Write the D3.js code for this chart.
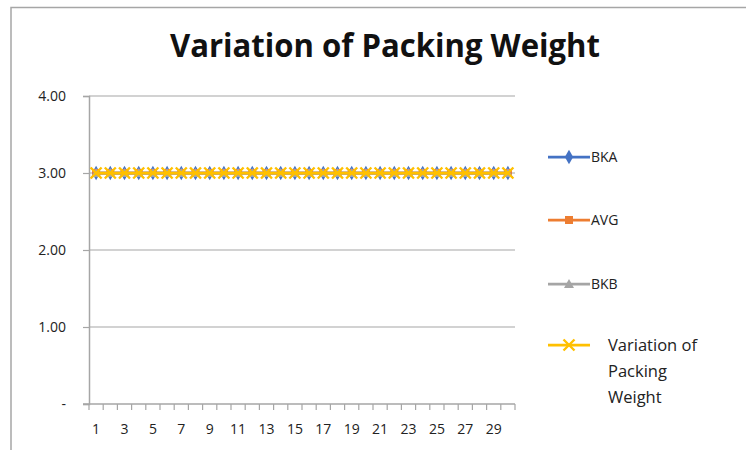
<!DOCTYPE html>
<html>
<head>
<meta charset="utf-8">
<script src="https://cdn.jsdelivr.net/npm/d3@7"></script>
<style>
  html, body { margin: 0; padding: 0; background: #fff; }
  svg { display: block; font-family: "Open Sans", "Liberation Sans", sans-serif; }
</style>
</head>
<body>
<svg id="chart" width="746" height="450"></svg>
<script>
// Sample numbers 1..30
const categories = [1,2,3,4,5,6,7,8,9,10,11,12,13,14,15,16,17,18,19,20,21,22,23,24,25,26,27,28,29,30];

// Packing weight per sample
const bka = [3,3,3,3,3,3,3,3,3,3,3,3,3,3,3,3,3,3,3,3,3,3,3,3,3,3,3,3,3,3];
const avg = [3,3,3,3,3,3,3,3,3,3,3,3,3,3,3,3,3,3,3,3,3,3,3,3,3,3,3,3,3,3];
const bkb = [3,3,3,3,3,3,3,3,3,3,3,3,3,3,3,3,3,3,3,3,3,3,3,3,3,3,3,3,3,3];
const variation = [3,3,3,3,3,3,3,3,3,3,3,3,3,3,3,3,3,3,3,3,3,3,3,3,3,3,3,3,3,3];

const yTicks = [0, 1, 2, 3, 4];
const yTickLabels = ["-", "1.00", "2.00", "3.00", "4.00"];
const xTickLabels = [1,3,5,7,9,11,13,15,17,19,21,23,25,27,29];

const series = [
  { name: "BKA", values: bka, color: "#4472C4", marker: "diamond" },
  { name: "AVG", values: avg, color: "#ED7D31", marker: "square" },
  { name: "BKB", values: bkb, color: "#A5A5A5", marker: "triangle" },
  { name: ["Variation of", "Packing", "Weight"], values: variation, color: "#FFC000", marker: "cross" }
];

const svg = d3.select("#chart");
const plotLeft = 89, plotRight = 515, plotTop = 96, plotBottom = 404;

// Outer chart frame
svg.append("path")
  .attr("d", `M11,460 L11,7.5 L760,7.5`)
  .attr("fill", "none").attr("stroke", "#a6a6a6").attr("stroke-width", 1.5);

// Title
svg.append("text")
  .attr("x", 385).attr("y", 57)
  .attr("text-anchor", "middle")
  .attr("font-family", "'Open Sans', sans-serif")
  .attr("font-weight", "bold").attr("font-size", 33)
  .attr("textLength", 430).attr("lengthAdjust", "spacingAndGlyphs")
  .attr("fill", "#111")
  .text("Variation of Packing Weight");

const x = d3.scaleBand().domain(categories).range([plotLeft, plotRight]).paddingInner(0).paddingOuter(0);
const y = d3.scaleLinear().domain([0, 4]).range([plotBottom, plotTop]);

// Horizontal gridlines
svg.append("g").selectAll("line")
  .data(yTicks.filter(d => d > 0))
  .join("line")
  .attr("x1", plotLeft).attr("x2", plotRight)
  .attr("y1", d => y(d)).attr("y2", d => y(d))
  .attr("stroke", "#a6a6a6").attr("stroke-width", 1.2);

// Y axis
const yAxis = d3.axisLeft(y).tickValues(yTicks).tickSize(6)
  .tickFormat((d, i) => yTickLabels[i]);
const gy = svg.append("g").attr("transform", `translate(${plotLeft},0)`).call(yAxis);
gy.select(".domain").attr("stroke", "#a6a6a6").attr("stroke-width", 1.5);
gy.selectAll(".tick line").attr("stroke", "#a6a6a6").attr("stroke-width", 1.2);
gy.selectAll(".tick text")
  .attr("x", -23)
  .attr("font-size", 14).attr("fill", "#222")
  .attr("font-family", "'Open Sans', sans-serif");

// X axis: tick marks at category boundaries, labels on odd samples
const boundaries = categories.map(c => x(c)).concat([plotRight]);
const gx = svg.append("g");
gx.append("line")
  .attr("x1", plotLeft - 6).attr("x2", plotRight)
  .attr("y1", plotBottom).attr("y2", plotBottom)
  .attr("stroke", "#a6a6a6").attr("stroke-width", 1.5);
gx.selectAll("line.tk")
  .data(boundaries)
  .join("line").attr("class", "tk")
  .attr("x1", d => d).attr("x2", d => d)
  .attr("y1", plotBottom).attr("y2", plotBottom + 6)
  .attr("stroke", "#a6a6a6").attr("stroke-width", 1.2);
gx.selectAll("text")
  .data(xTickLabels)
  .join("text")
  .attr("x", d => x(d) + x.bandwidth() / 2)
  .attr("y", plotBottom + 30)
  .attr("text-anchor", "middle")
  .attr("font-size", 14).attr("fill", "#222")
  .attr("font-family", "'Open Sans', sans-serif")
  .text(d => d);

// Marker shapes
function drawMarker(g, type, color, cx, cy) {
  if (type === "diamond") {
    g.append("path").attr("d", d3.symbol(d3.symbolDiamond, 60)())
      .attr("transform", `translate(${cx},${cy})`)
      .attr("fill", color);
  } else if (type === "square") {
    g.append("rect").attr("x", cx - 4).attr("y", cy - 4).attr("width", 8).attr("height", 8)
      .attr("fill", color);
  } else if (type === "triangle") {
    g.append("path").attr("d", `M${cx},${cy - 5} L${cx + 5},${cy + 4} L${cx - 5},${cy + 4} Z`)
      .attr("fill", color);
  } else if (type === "cross") {
    g.append("path").attr("d", `M${cx - 5.5},${cy - 5.5} L${cx + 5.5},${cy + 5.5} M${cx - 5.5},${cy + 5.5} L${cx + 5.5},${cy - 5.5}`)
      .attr("stroke", color).attr("stroke-width", 2.4).attr("fill", "none");
  }
}

// Series lines and markers
const line = d3.line().x((d, i) => x(categories[i]) + x.bandwidth() / 2).y(d => y(d));
series.forEach(s => {
  const g = svg.append("g");
  g.append("path").datum(s.values)
    .attr("d", line)
    .attr("fill", "none").attr("stroke", s.color).attr("stroke-width", 2.75);
  s.values.forEach((v, i) => {
    drawMarker(g, s.marker, s.color, x(categories[i]) + x.bandwidth() / 2, y(v));
  });
});

// Legend
const legendY = [157, 220, 284, 345];
series.forEach((s, i) => {
  const g = svg.append("g");
  const ly = legendY[i];
  g.append("line").attr("x1", 548).attr("x2", 590).attr("y1", ly).attr("y2", ly)
    .attr("stroke", s.color).attr("stroke-width", 2.75);
  drawMarker(g, s.marker, s.color, 569, ly);
  if (Array.isArray(s.name)) {
    s.name.forEach((t, j) => {
      g.append("text").attr("x", 608).attr("y", ly + 6 + j * 26)
        .attr("font-size", 16.5).attr("fill", "#222")
        .attr("font-family", "'Open Sans', sans-serif")
        .text(t);
    });
  } else {
    g.append("text").attr("x", 591).attr("y", ly + 5)
      .attr("font-size", 14).attr("fill", "#222")
      .attr("font-family", "'Open Sans', sans-serif")
      .text(s.name);
  }
});
</script>
</body>
</html>
